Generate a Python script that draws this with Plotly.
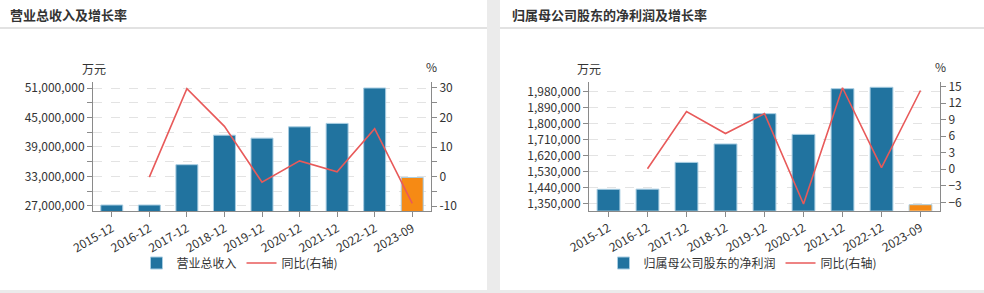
import plotly.graph_objects as go

W, H = 984, 293

categories = ["2015-12", "2016-12", "2017-12", "2018-12", "2019-12",
              "2020-12", "2021-12", "2022-12", "2023-09"]

revenue = [27200000, 27200000, 35400000, 41400000, 40800000,
           43100000, 43800000, 51000000, 32800000]
revenue_yoy = [None, -0.2, 29.8, 17.0, -1.9, 5.3, 1.6, 16.2, -9.1]

profit = [1429000, 1430000, 1581000, 1685000, 1856000,
          1739000, 1997000, 2005000, 1342000]
profit_yoy = [None, 0.1, 10.5, 6.5, 10.1, -6.3, 14.8, 0.3, 14.3]

rev_ticks = list(range(27000000, 51000001, 3000000))
rev_ticktext = [f"{v:,}" if (v - 27000000) % 6000000 == 0 else "" for v in rev_ticks]
rev_pct_ticks = list(range(-10, 31, 5))
rev_pct_text = [str(v) if v % 10 == 0 else "" for v in rev_pct_ticks]

prof_ticks = list(range(1350000, 1980001, 90000))
prof_ticktext = [f"{v:,}" for v in prof_ticks]
prof_pct_ticks = list(range(-6, 16, 3))

BLUE = "#21739f"
ORANGE = "#f68a14"
RED = "#e85a5a"
FONT = "Noto Sans CJK SC, sans-serif"
TXT = "#333333"
AXC = "#8a8a8a"

bar_colors = [BLUE] * (len(categories) - 1) + [ORANGE]


def px(x):
    return x / W


def py(y):
    return 1 - y / H


fig = go.Figure()

fig.add_trace(go.Bar(x=categories, y=revenue, name="营业总收入",
                     marker=dict(color=bar_colors, line=dict(color="#a8cde2", width=1)),
                     xaxis="x", yaxis="y", legend="legend"))
fig.add_trace(go.Scatter(x=categories, y=revenue_yoy, name="同比(右轴)", mode="lines",
                         line=dict(color=RED, width=1.6),
                         xaxis="x", yaxis="y2", legend="legend"))
fig.add_trace(go.Bar(x=categories, y=profit, name="归属母公司股东的净利润",
                     marker=dict(color=bar_colors, line=dict(color="#a8cde2", width=1)),
                     xaxis="x2", yaxis="y3", legend="legend2"))
fig.add_trace(go.Scatter(x=categories, y=profit_yoy, name="同比(右轴)", mode="lines",
                         line=dict(color=RED, width=1.6),
                         xaxis="x2", yaxis="y4", legend="legend2"))

common_x = dict(type="category", tickangle=-30, ticks="outside", ticklen=5,
                tickcolor=AXC, showline=True, linecolor=AXC, linewidth=1,
                showgrid=False, tickfont=dict(size=12, color=TXT, family=FONT),
                fixedrange=True, automargin=False)
common_y = dict(ticks="outside", ticklen=5, tickcolor=AXC, showline=True,
                linecolor=AXC, linewidth=1, zeroline=False, automargin=False,
                tickfont=dict(size=12, color=TXT, family=FONT), tickmode="array")

fig.update_layout(
    width=W, height=H, margin=dict(l=0, r=0, t=0, b=0, autoexpand=False),
    paper_bgcolor="#ebebeb", plot_bgcolor="rgba(0,0,0,0)",
    font=dict(family=FONT, color=TXT, size=12),
    bargap=0.415,
    xaxis=dict(domain=[px(93), px(431)], anchor="y", **common_x),
    yaxis=dict(domain=[py(211), py(82)], anchor="x",
               range=[25980000, 52220000], tickvals=rev_ticks, ticktext=rev_ticktext,
               showgrid=True, gridcolor="#e3e3e3", griddash="dash", **common_y),
    yaxis2=dict(overlaying="y", side="right", anchor="x",
                range=[-11.69, 32.03], tickvals=rev_pct_ticks, ticktext=rev_pct_text,
                showgrid=False, **common_y),
    xaxis2=dict(domain=[px(589), px(940)], anchor="y3", **common_x),
    yaxis3=dict(domain=[py(210.7), py(81.7)], anchor="x2",
                range=[1308245, 2036426], tickvals=prof_ticks, ticktext=prof_ticktext,
                showgrid=True, gridcolor="#e3e3e3", griddash="dash", **common_y),
    yaxis4=dict(overlaying="y3", side="right", anchor="x2",
                range=[-7.52, 15.9], tickvals=prof_pct_ticks,
                showgrid=False, **common_y),
    legend=dict(orientation="h", x=px(240), xanchor="center", y=py(263), yanchor="middle",
                bgcolor="rgba(0,0,0,0)", font=dict(size=12, color=TXT, family=FONT),
                itemwidth=30, tracegroupgap=0),
    legend2=dict(orientation="h", x=px(743), xanchor="center", y=py(263), yanchor="middle",
                 bgcolor="rgba(0,0,0,0)", font=dict(size=12, color=TXT, family=FONT),
                 itemwidth=30, tracegroupgap=0),
    showlegend=True,
)

# cards
fig.add_shape(type="rect", xref="paper", yref="paper", x0=0, x1=px(487), y0=py(290), y1=1,
              fillcolor="white", line=dict(width=0), layer="below")
fig.add_shape(type="rect", xref="paper", yref="paper", x0=px(500), x1=1, y0=py(290), y1=1,
              fillcolor="white", line=dict(width=0), layer="below")
for x0, x1 in [(0, 487), (500, 984)]:
    fig.add_shape(type="line", xref="paper", yref="paper", x0=px(x0), x1=px(x1),
                  y0=py(28), y1=py(28), line=dict(color="#e2e2e2", width=2), layer="below")

annos = [
    dict(text="<b>营业总收入及增长率</b>", x=px(8), y=py(15), xanchor="left", size=13),
    dict(text="<b>归属母公司股东的净利润及增长率</b>", x=px(510), y=py(15), xanchor="left", size=13),
    dict(text="万元", x=px(94), y=py(68), xanchor="center", size=12),
    dict(text="%", x=px(431), y=py(67), xanchor="center", size=12),
    dict(text="万元", x=px(589), y=py(68), xanchor="center", size=12),
    dict(text="%", x=px(940), y=py(67), xanchor="center", size=12),
]
for a in annos:
    fig.add_annotation(text=a["text"], x=a["x"], y=a["y"], xref="paper", yref="paper",
                       xanchor=a["xanchor"], yanchor="middle", showarrow=False,
                       font=dict(size=a["size"], color=TXT, family=FONT))

fig.write_html("out.html")
